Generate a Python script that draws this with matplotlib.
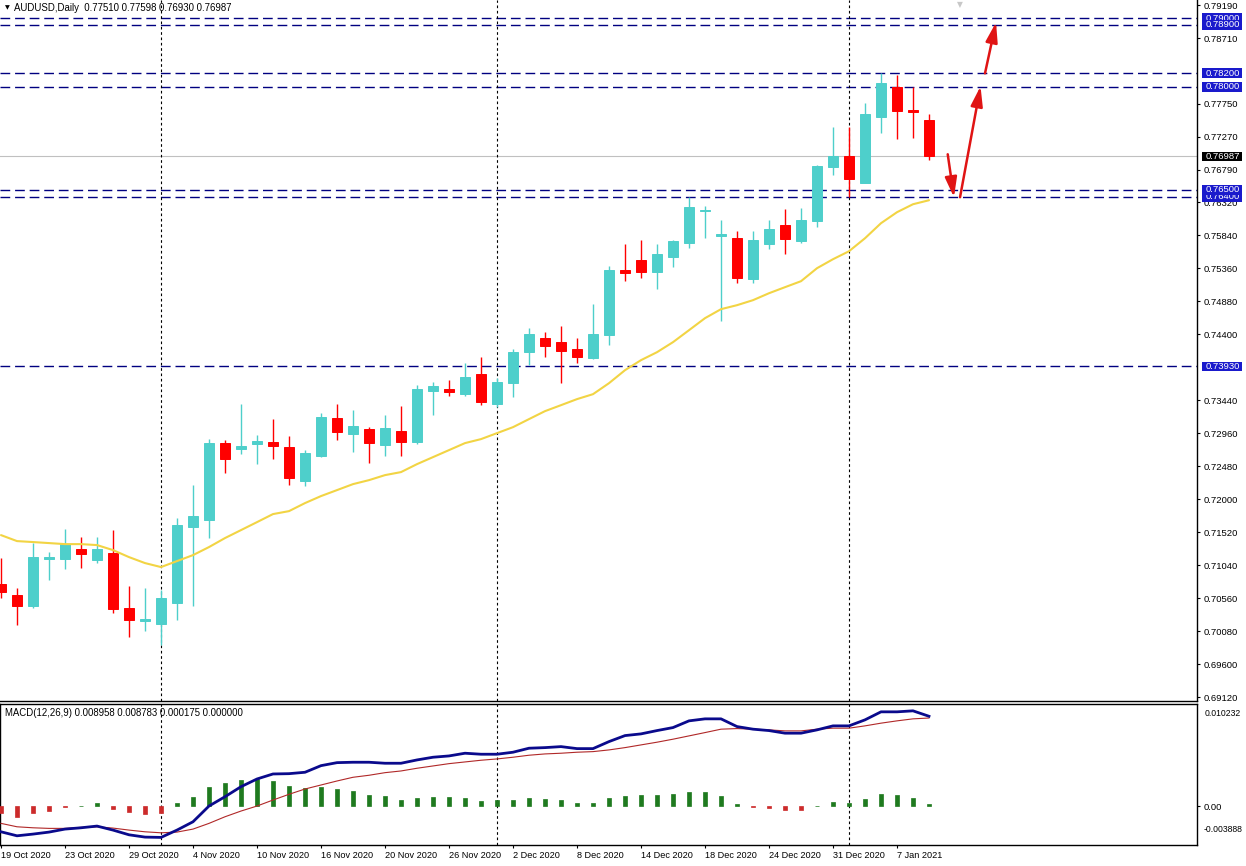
import matplotlib
matplotlib.use('Agg')
import matplotlib.pyplot as plt
import numpy as np
from matplotlib.patches import Rectangle
from matplotlib.transforms import blended_transform_factory

plt.rcParams['font.family'] = ['Liberation Sans', 'DejaVu Sans']

# ---------------- data ----------------
opens = [0.70764, 0.70604, 0.70444, 0.71127, 0.71127, 0.71273, 0.71113, 0.71214, 0.70415, 0.70225,
         0.70182, 0.70487, 0.71593, 0.71695, 0.72815, 0.72727, 0.72800, 0.72829, 0.72756, 0.72262,
         0.72625, 0.73178, 0.72945, 0.73018, 0.72785, 0.72989, 0.72829, 0.73571, 0.73600, 0.73527,
         0.73818, 0.73382, 0.73687, 0.74138, 0.74342, 0.74284, 0.74182, 0.74051, 0.74385, 0.75331,
         0.75476, 0.75302, 0.75520, 0.75724, 0.76189, 0.75825, 0.75796, 0.75200, 0.75709, 0.75985,
         0.75753, 0.76044, 0.76829, 0.76989, 0.76596, 0.77556, 0.77993, 0.77658, 0.77510]
highs = [0.71142, 0.70705, 0.71360, 0.71229, 0.71564, 0.71447, 0.71447, 0.71549, 0.70735, 0.70705,
         0.70676, 0.71724, 0.72204, 0.72873, 0.72858, 0.73382, 0.72931, 0.73164, 0.72916, 0.72713,
         0.73251, 0.73382, 0.73295, 0.73047, 0.73222, 0.73353, 0.73658, 0.73702, 0.73731, 0.73978,
         0.74065, 0.73760, 0.74182, 0.74487, 0.74429, 0.74516, 0.74342, 0.74836, 0.75389, 0.75709,
         0.75767, 0.75709, 0.75767, 0.76393, 0.76262, 0.76058, 0.75898, 0.75898, 0.76058, 0.76218,
         0.76233, 0.76858, 0.77411, 0.77411, 0.77760, 0.78196, 0.78167, 0.77993, 0.77598]
lows = [0.70560, 0.70167, 0.70415, 0.70822, 0.70982, 0.70996, 0.71069, 0.70342, 0.69993, 0.70080,
        0.69876, 0.70240, 0.70444, 0.71433, 0.72378, 0.72655, 0.72509, 0.72582, 0.72204, 0.72189,
        0.72611, 0.72858, 0.72684, 0.72524, 0.72625, 0.72625, 0.72800, 0.73222, 0.73498, 0.73498,
        0.73367, 0.73338, 0.73484, 0.73949, 0.74065, 0.73687, 0.73978, 0.74036, 0.74240, 0.75171,
        0.75215, 0.75055, 0.75375, 0.75651, 0.75796, 0.74589, 0.75142, 0.75142, 0.75636, 0.75564,
        0.75724, 0.75956, 0.76713, 0.76393, 0.76596, 0.77324, 0.77236, 0.77251, 0.76930]
closes = [0.70647, 0.70444, 0.71156, 0.71156, 0.71345, 0.71200, 0.71273, 0.70400, 0.70240, 0.70255,
          0.70560, 0.71622, 0.71753, 0.72815, 0.72582, 0.72771, 0.72844, 0.72771, 0.72305, 0.72669,
          0.73193, 0.72975, 0.73062, 0.72815, 0.73033, 0.72829, 0.73600, 0.73644, 0.73556, 0.73775,
          0.73411, 0.73702, 0.74138, 0.74400, 0.74225, 0.74153, 0.74065, 0.74400, 0.75331, 0.75287,
          0.75302, 0.75564, 0.75753, 0.76247, 0.76204, 0.75855, 0.75215, 0.75767, 0.75927, 0.75782,
          0.76058, 0.76844, 0.76989, 0.76655, 0.77600, 0.78051, 0.77644, 0.77629, 0.76987]
moving_avg = [0.71476, 0.71389, 0.71375, 0.71360, 0.71345, 0.71345, 0.71331, 0.71258, 0.71156, 0.71069,
              0.71011, 0.71098, 0.71185, 0.71302, 0.71433, 0.71549, 0.71665, 0.71782, 0.71825, 0.71942,
              0.72044, 0.72131, 0.72218, 0.72276, 0.72349, 0.72393, 0.72509, 0.72611, 0.72713, 0.72815,
              0.72873, 0.72960, 0.73047, 0.73164, 0.73280, 0.73367, 0.73455, 0.73527, 0.73687, 0.73876,
              0.74022, 0.74138, 0.74284, 0.74458, 0.74633, 0.74764, 0.74822, 0.74895, 0.74996, 0.75084,
              0.75171, 0.75360, 0.75491, 0.75607, 0.75796, 0.76015, 0.76175, 0.76291, 0.76349]
macd_main = [-0.00257, -0.00297, -0.00280, -0.00260, -0.00230, -0.00217, -0.00200, -0.00240, -0.00287, -0.00310,
             -0.00313, -0.00240, -0.00157, 0.00000, 0.00093, 0.00193, 0.00270, 0.00320, 0.00323, 0.00337,
             0.00403, 0.00433, 0.00437, 0.00437, 0.00427, 0.00427, 0.00460, 0.00487, 0.00500, 0.00527,
             0.00517, 0.00517, 0.00537, 0.00577, 0.00583, 0.00593, 0.00573, 0.00573, 0.00643, 0.00703,
             0.00720, 0.00753, 0.00783, 0.00850, 0.00870, 0.00870, 0.00793, 0.00767, 0.00753, 0.00727,
             0.00727, 0.00760, 0.00800, 0.00800, 0.00860, 0.00940, 0.00940, 0.00950, 0.008958]
macd_signal = [-0.00173, -0.00207, -0.00217, -0.00223, -0.00223, -0.00213, -0.00207, -0.00220, -0.00240, -0.00257,
               -0.00267, -0.00260, -0.00230, -0.00173, -0.00107, -0.00050, 0.00000, 0.00060, 0.00117, 0.00170,
               0.00210, 0.00250, 0.00287, 0.00307, 0.00333, 0.00350, 0.00377, 0.00400, 0.00423, 0.00440,
               0.00457, 0.00470, 0.00487, 0.00507, 0.00520, 0.00527, 0.00537, 0.00543, 0.00560, 0.00583,
               0.00610, 0.00637, 0.00667, 0.00700, 0.00733, 0.00767, 0.00773, 0.00767, 0.00760, 0.00750,
               0.00750, 0.00767, 0.00777, 0.00777, 0.00800, 0.00827, 0.00850, 0.00870, 0.008783]
macd_hist = [-0.00070, -0.00107, -0.00067, -0.00047, -0.00005, 0.00005, 0.00027, -0.00027, -0.00057, -0.00080,
             -0.00073, 0.00033, 0.00093, 0.00187, 0.00233, 0.00260, 0.00273, 0.00250, 0.00200, 0.00183,
             0.00193, 0.00170, 0.00153, 0.00110, 0.00100, 0.00060, 0.00080, 0.00093, 0.00090, 0.00080,
             0.00050, 0.00060, 0.00060, 0.00080, 0.00073, 0.00060, 0.00033, 0.00033, 0.00083, 0.00100,
             0.00110, 0.00110, 0.00120, 0.00143, 0.00143, 0.00100, 0.00020, -0.00005, -0.00020, -0.00040,
             -0.00040, 0.00005, 0.00043, 0.00033, 0.00070, 0.00120, 0.00110, 0.00083, 0.000175]
date_labels = ['19 Oct 2020', '23 Oct 2020', '29 Oct 2020', '4 Nov 2020', '10 Nov 2020', '16 Nov 2020',
               '20 Nov 2020', '26 Nov 2020', '2 Dec 2020', '8 Dec 2020', '14 Dec 2020', '18 Dec 2020',
               '24 Dec 2020', '31 Dec 2020', '7 Jan 2021']
date_label_bars = list(range(0, 57, 4))
price_ticks = [0.79190, 0.78710, 0.77750, 0.77270, 0.76790, 0.76320, 0.75840, 0.75360, 0.74880,
               0.74400, 0.73440, 0.72960, 0.72480, 0.72000, 0.71520, 0.71040, 0.70560, 0.70080,
               0.69600, 0.69120]
level_lines = [0.79000, 0.78900, 0.78200, 0.78000, 0.76400, 0.76500, 0.73930]
current_price = 0.76987
month_separators = [10, 31, 53]
arrow_starts = [(59.17, 0.77018), (59.94, 0.76393), (61.50, 0.78196)]
arrow_ends = [(59.56, 0.76393), (61.22, 0.78007), (62.19, 0.78938)]
header_text = 'AUDUSD,Daily  0.77510 0.77598 0.76930 0.76987'
macd_text = 'MACD(12,26,9) 0.008958 0.008783 0.000175 0.000000'
macd_top, macd_bottom = 0.010232, -0.003888

# ---------------- layout ----------------
W, H = 1246, 866
BULL = '#4ecfcb'
BEAR = '#ff0000'
NAVY = '#000080'
FS_AX = 6.8
FS_MACD = 6.2


def rect(x0, y0, x1, y1):
    return [x0 / W, 1 - y1 / H, (x1 - x0) / W, (y1 - y0) / H]


fig = plt.figure(figsize=(W / 100, H / 100), dpi=100)
fig.patch.set_facecolor('white')
ax = fig.add_axes(rect(0, 0, 1197, 701))
ax2 = fig.add_axes(rect(0, 703.5, 1197, 845))

xlim = (-1 / 16, 1196 / 16)
for a in (ax, ax2):
    a.set_xlim(*xlim)
    a.set_facecolor('white')
    for s in a.spines.values():
        s.set_color('black')
        s.set_linewidth(1.0)
ax.spines['top'].set_visible(False)
ax.spines['left'].set_visible(False)

ax.set_ylim(0.69062, 0.79263)
ax2.set_ylim(macd_bottom, macd_top)

idx = np.arange(len(opens))
o = np.array(opens); h = np.array(highs); l = np.array(lows); c = np.array(closes)
cols = np.where(c >= o, BULL, BEAR)

# level lines and current price
for v in level_lines:
    ax.axhline(v, color=NAVY, lw=1.0, ls=(0, (7, 3.5)), zorder=1)
ax.axhline(current_price, color='#c0c0c0', lw=0.8, zorder=1)

# month separators
for m in month_separators:
    for a in (ax, ax2):
        a.axvline(m, color='black', lw=0.8, ls=(0, (2.4, 2.4)), zorder=1.5)

# candles
ax.vlines(idx, l, h, colors=cols, lw=1.0, zorder=3)
ax.bar(idx, np.abs(c - o), bottom=np.minimum(o, c), width=0.62, color=cols,
       edgecolor=cols, linewidth=0.7, zorder=4)

# moving average
ax.plot(idx, moving_avg, color='#f2d444', lw=1.5, zorder=5, solid_capstyle='round')

# arrows
for s, e in zip(arrow_starts, arrow_ends):
    ax.annotate('', xy=e, xytext=s,
                arrowprops=dict(arrowstyle='-|>,head_length=1.0,head_width=0.3',
                                color='#e01414', lw=1.8, shrinkA=0, shrinkB=0,
                                mutation_scale=12), zorder=6)

# y axis on right
ax.yaxis.tick_right()
ax.set_yticks(price_ticks)
ax.set_yticklabels([f'{v:.5f}' for v in price_ticks])
ax.tick_params(axis='y', direction='out', length=2.2, width=0.8, pad=2.7,
               labelsize=FS_AX, colors='black')
ax.set_xticks([])

# boxes for levels on the right axis
bt = blended_transform_factory(ax.transAxes, ax.transData)
half = 0.00070
z = 10
for v in level_lines:
    ax.add_patch(Rectangle((1202 / 1197, v - half), 40 / 1197, 2 * half, transform=bt,
                           facecolor='#1a1acc', edgecolor='none', clip_on=False, zorder=z))
    ax.text(1206 / 1197, v, f'{v:.5f}', transform=bt, color='white', fontsize=FS_AX,
            va='center', ha='left', clip_on=False, zorder=z + 0.5)
    z += 1
ax.add_patch(Rectangle((1202 / 1197, current_price - half), 40 / 1197, 2 * half, transform=bt,
                       facecolor='black', edgecolor='none', clip_on=False, zorder=z))
ax.text(1206 / 1197, current_price, f'{current_price:.5f}', transform=bt, color='white',
        fontsize=FS_AX, va='center', ha='left', clip_on=False, zorder=z + 0.5)

# header texts
ax.text(5 / 1197, 1 - 8 / 701, '\u25BC', transform=ax.transAxes, fontsize=4.5,
        family='DejaVu Sans', va='center', ha='left', color='black')
ax.text(14 / 1197, 1 - 8 / 701, header_text, transform=ax.transAxes, fontsize=6.9,
        va='center', ha='left', color='black')
ax.text(960 / 1197, 1 - 5 / 701, '\u25BC', transform=ax.transAxes, fontsize=5.5,
        family='DejaVu Sans', va='center', ha='center', color='#c8c8c8')

# MACD panel
hcols = np.where(np.array(macd_hist) >= 0, '#1f7a1f', '#cc2b2b')
ax2.bar(idx, macd_hist, width=0.2, color=hcols, edgecolor=hcols, linewidth=0.5, zorder=3)
ax2.plot(idx, macd_signal, color='#b02828', lw=0.8, zorder=4)
ax2.plot(idx, macd_main, color='#0a0a8c', lw=2.0, zorder=5)
ax2.text(5 / 1197, (845 - 712.7) / 141.5, macd_text, transform=ax2.transAxes, fontsize=6.9,
         va='center', ha='left')

ax2.yaxis.tick_right()
ax2.set_yticks([0.0])
ax2.set_yticklabels(['0.00'])
ax2.tick_params(axis='y', direction='out', length=2.2, width=0.8, pad=2.7, labelsize=FS_AX)
ax2.text(1204.5 / 1197, (845 - 713) / 141.5, f'{macd_top:.6f}', transform=ax2.transAxes,
         fontsize=FS_MACD, va='center', ha='left', clip_on=False)
ax2.text(1203.5 / 1197, (845 - 829) / 141.5, f'{macd_bottom:.6f}', transform=ax2.transAxes,
         fontsize=FS_MACD, va='center', ha='left', clip_on=False)

ax2.set_xticks(date_label_bars)
ax2.set_xticklabels(date_labels, ha='left')
ax2.tick_params(axis='x', direction='out', length=2.4, width=0.8, pad=2.0, labelsize=6.6)

fig.savefig('out.png', dpi=100, facecolor='white')
